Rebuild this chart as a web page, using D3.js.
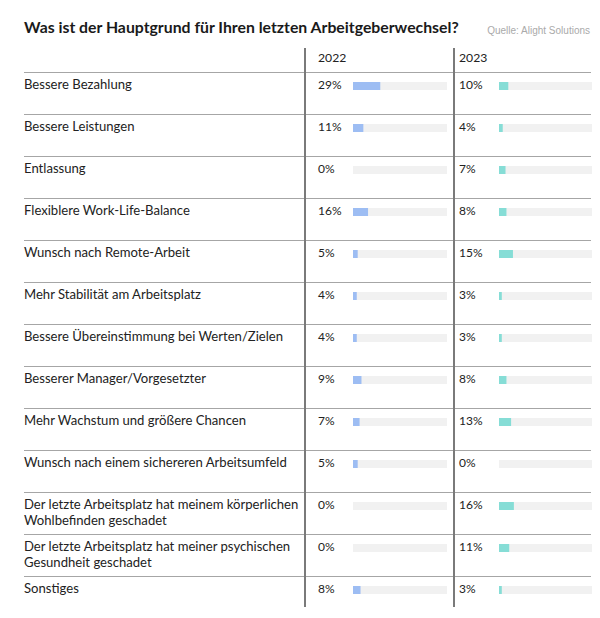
<!DOCTYPE html>
<html><head><meta charset="utf-8">
<script src="https://cdn.jsdelivr.net/npm/d3@7/dist/d3.min.js"></script>
<style>body{margin:0;background:#fff}svg{display:block}</style>
</head><body>
<svg id="c" width="600" height="618"></svg>
<script>
const categories = [
  ["Bessere Bezahlung"],
  ["Bessere Leistungen"],
  ["Entlassung"],
  ["Flexiblere Work-Life-Balance"],
  ["Wunsch nach Remote-Arbeit"],
  ["Mehr Stabilität am Arbeitsplatz"],
  ["Bessere Übereinstimmung bei Werten/Zielen"],
  ["Besserer Manager/Vorgesetzter"],
  ["Mehr Wachstum und größere Chancen"],
  ["Wunsch nach einem sichereren Arbeitsumfeld"],
  ["Der letzte Arbeitsplatz hat meinem körperlichen", "Wohlbefinden geschadet"],
  ["Der letzte Arbeitsplatz hat meiner psychischen", "Gesundheit geschadet"],
  ["Sonstiges"]
];
const years = ["2022", "2023"];
const values2022 = [29, 11, 0, 16, 5, 4, 4, 9, 7, 5, 0, 0, 8];
const values2023 = [10, 4, 7, 8, 15, 3, 3, 8, 13, 0, 16, 11, 3];
const title = "Was ist der Hauptgrund für Ihren letzten Arbeitgeberwechsel?";
const source = "Quelle: Alight Solutions";

const svg = d3.select("#c");
const font = "Lato, 'Open Sans', sans-serif";
const ids = categories.map((d,i)=>i);
const y = d3.scaleBand().domain(ids).range([72, 618]);
const cols = [
  {year: years[0], vals: values2022, line: 305, txt: 318, x: d3.scaleLinear().domain([0,100]).range([353,447]), color: "#9dbdf3"},
  {year: years[1], vals: values2023, line: 454, txt: 459, x: d3.scaleLinear().domain([0,100]).range([499,592]), color: "#86ddd6"}
];

svg.append("text").attr("x", 24).attr("y", 33).attr("font-family", font)
  .attr("font-weight", 700).attr("font-size", 15.8).attr("fill", "#1a1a1a").text(title);
svg.append("text").attr("x", 590).attr("y", 34).attr("text-anchor", "end")
  .attr("font-family", "'Liberation Sans', Arial, sans-serif").attr("font-size", 10).attr("fill", "#aaa").text(source);

// horizontal lines
svg.selectAll("line.h").data(ids).join("line").attr("class","h")
  .attr("x1", 24).attr("x2", 591).attr("y1", d=>y(d)+0.5).attr("y2", d=>y(d)+0.5)
  .attr("stroke", "#a6a6a6").attr("stroke-width", 1);

// labels
const lab = svg.selectAll("text.lab").data(ids).join("text").attr("class","lab")
  .attr("font-family", font).attr("font-size", 13.1).attr("fill", "#222");
lab.selectAll("tspan").data(d=>categories[d].map((t,j)=>({t,j,d}))).join("tspan")
  .attr("x", 24).attr("y", o=>y(o.d)+17+o.j*16).text(o=>o.t);

cols.forEach(c=>{
  svg.append("text").attr("x", c.txt).attr("y", 62).attr("font-family", font)
    .attr("font-size", 12.2).attr("fill", "#222").text(c.year);
  const g = svg.append("g");
  g.selectAll("rect.track").data(ids).join("rect").attr("class","track")
    .attr("x", c.x(0)).attr("width", c.x(100)-c.x(0))
    .attr("y", d=>y(d)+10).attr("height", 8).attr("fill", "#f1f1f1");
  g.selectAll("rect.bar").data(ids).join("rect").attr("class","bar")
    .attr("x", c.x(0)).attr("width", d=>c.x(c.vals[d])-c.x(0))
    .attr("y", d=>y(d)+10).attr("height", 8).attr("fill", c.color);
  g.selectAll("text.val").data(ids).join("text").attr("class","val")
    .attr("x", c.txt).attr("y", d=>y(d)+17).attr("font-family", font)
    .attr("font-size", 12).attr("fill", "#222").text(d=>c.vals[d]+"%");
  svg.append("line").attr("x1", c.line).attr("x2", c.line).attr("y1", 48).attr("y2", 607)
    .attr("stroke", "#7a7a7a").attr("stroke-width", 2);
});
</script>
</body></html>
